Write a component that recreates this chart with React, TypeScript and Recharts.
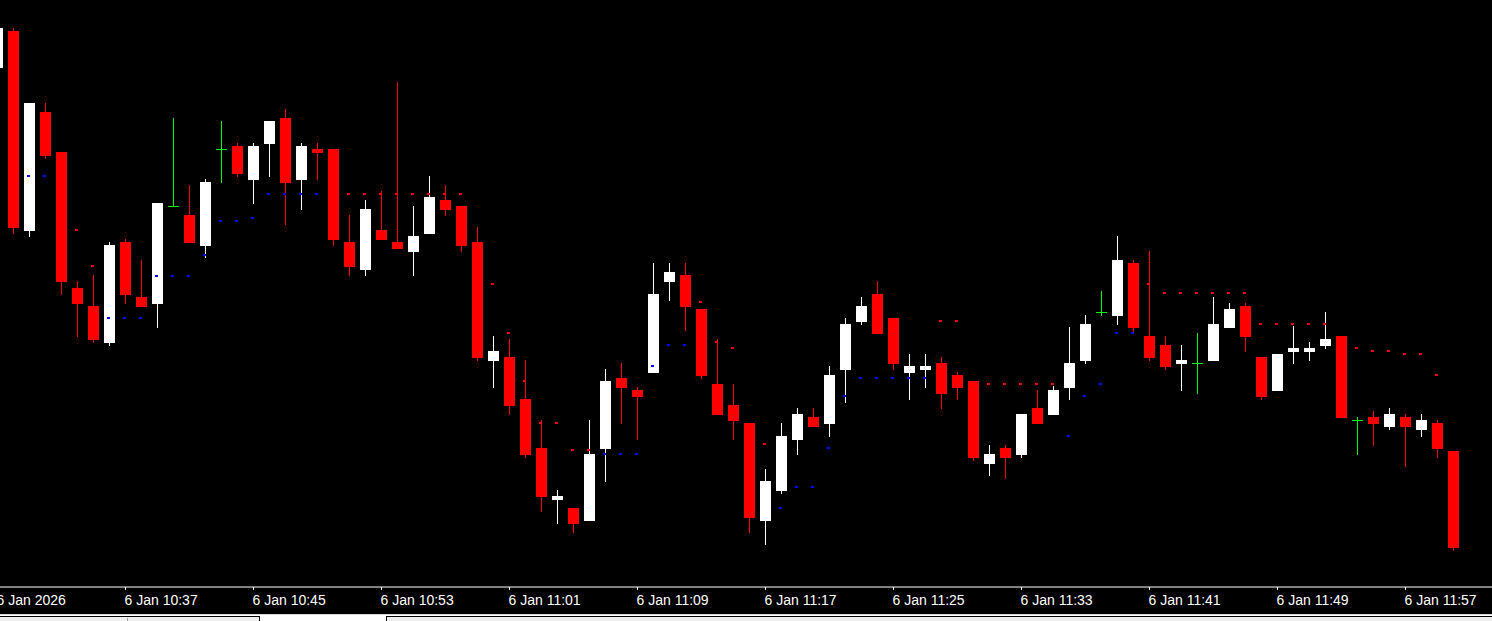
import React from 'react';
import { ComposedChart, Bar, Scatter, XAxis, YAxis } from 'recharts';

// one-minute bars, 6 Jan 2026
const times = [
  '10:29', '10:30', '10:31', '10:32', '10:33', '10:34', '10:35', '10:36', '10:37', '10:38',
  '10:39', '10:40', '10:41', '10:42', '10:43', '10:44', '10:45', '10:46', '10:47', '10:48',
  '10:49', '10:50', '10:51', '10:52', '10:53', '10:54', '10:55', '10:56', '10:57', '10:58',
  '10:59', '11:00', '11:01', '11:02', '11:03', '11:04', '11:05', '11:06', '11:07', '11:08',
  '11:09', '11:10', '11:11', '11:12', '11:13', '11:14', '11:15', '11:16', '11:17', '11:18',
  '11:19', '11:20', '11:21', '11:22', '11:23', '11:24', '11:25', '11:26', '11:27', '11:28',
  '11:29', '11:30', '11:31', '11:32', '11:33', '11:34', '11:35', '11:36', '11:37', '11:38',
  '11:39', '11:40', '11:41', '11:42', '11:43', '11:44', '11:45', '11:46', '11:47', '11:48',
  '11:49', '11:50', '11:51', '11:52', '11:53', '11:54', '11:55', '11:56', '11:57', '11:58',
  '11:59', '12:00',
];

const opens = [
  532, 569, 369, 488, 448, 312, 294, 257, 358, 303,
  296, 394, 385, 354, 451, 454, 420, 456, 482, 420,
  451, 451, 358, 330, 370, 358, 348, 366, 400, 394,
  358, 239, 243, 201, 152, 100, 92, 79, 151, 222,
  210, 227, 318, 325, 291, 216, 195, 177, 79, 109,
  160, 183, 176, 230, 278, 306, 282, 227, 230, 237,
  225, 219, 136, 152, 145, 192, 185, 212, 239, 288,
  284, 337, 264, 255, 236, 237, 239, 272, 294, 243,
  209, 248, 248, 254, 264, 180, 183, 173, 183, 170,
  177, 149,
];

const highs = [
  574, 572, 497, 497, 448, 319, 325, 358, 361, 340,
  397, 482, 415, 421, 479, 457, 457, 479, 491, 457,
  457, 451, 385, 400, 409, 518, 394, 424, 415, 394,
  373, 264, 261, 240, 180, 110, 92, 180, 231, 237,
  213, 337, 337, 337, 291, 261, 216, 177, 131, 177,
  192, 192, 234, 282, 303, 319, 282, 246, 246, 243,
  228, 219, 155, 155, 186, 210, 214, 273, 285, 309,
  364, 340, 349, 264, 255, 267, 303, 297, 297, 243,
  246, 274, 258, 288, 264, 183, 189, 192, 186, 186,
  180, 149,
];

const lows = [
  530, 366, 363, 441, 305, 263, 257, 254, 296, 293,
  272, 394, 357, 342, 417, 423, 396, 423, 375, 390,
  420, 354, 324, 324, 360, 351, 324, 366, 384, 348,
  239, 212, 185, 142, 88, 76, 67, 79, 118, 176,
  160, 227, 299, 269, 221, 185, 160, 67, 55, 106,
  145, 173, 163, 197, 275, 266, 230, 200, 212, 191,
  200, 139, 124, 121, 142, 176, 185, 200, 236, 284,
  275, 268, 239, 230, 209, 206, 239, 272, 248, 200,
  209, 236, 239, 251, 182, 145, 154, 170, 133, 163,
  142, 49,
];

const closes = [
  572, 372, 497, 444, 318, 296, 260, 355, 305, 293,
  397, 394, 357, 418, 451, 426, 454, 479, 417, 454,
  447, 360, 333, 391, 360, 351, 364, 403, 390, 354,
  242, 249, 194, 145, 103, 104, 76, 146, 219, 212,
  203, 306, 328, 293, 224, 185, 179, 82, 119, 164,
  186, 173, 225, 276, 294, 266, 236, 234, 234, 206,
  212, 142, 146, 142, 186, 176, 210, 237, 276, 288,
  340, 272, 242, 233, 240, 237, 276, 291, 263, 203,
  246, 252, 252, 261, 182, 180, 176, 186, 173, 180,
  151, 52,
];

// Parabolic SAR
const sar: (number | null)[] = [
  null, null, 424, 424, null, 370, 334, 282, 282, 282,
  324, 324, 324, 345, 379, 379, 382, 406, 406, 406,
  406, null, 406, 406, 406, 406, 406, 406, 406, 406,
  null, 316, 267, 219, 177, 177, 150, 150, 146, 146,
  146, 234, 255, 255, 298, 258, 252, null, 156, 92,
  113, 113, 152, 204, 222, 222, 222, 222, 222, 279,
  279, null, 216, 216, 216, 216, 216, 164, 204, 216,
  267, 267, 316, 307, 307, 307, 307, 307, 307, 276,
  276, 276, 276, 276, null, 252, 249, 249, 246, 246,
  225, null,
];

const tickIndexes = [0, 8, 16, 24, 32, 40, 48, 56, 64, 72, 80, 88];
const tickLabels = [
  '6 Jan 2026', '6 Jan 10:37', '6 Jan 10:45', '6 Jan 10:53', '6 Jan 11:01', '6 Jan 11:09',
  '6 Jan 11:17', '6 Jan 11:25', '6 Jan 11:33', '6 Jan 11:41', '6 Jan 11:49', '6 Jan 11:57',
];

const data = times.map((t, i) => ({
  i,
  time: t,
  open: opens[i],
  high: highs[i],
  low: lows[i],
  close: closes[i],
  range: [lows[i], highs[i]],
  sar: sar[i],
}));
const sarData = data.filter((d) => d.sar !== null);

const W = 1492;
const H = 614;
const BAR_STEP = 16;
const X_START = 2.5 / BAR_STEP;

const Candle = (props: any) => {
  const { x, y, width, height, payload } = props;
  if (!payload || x == null || y == null) return <g />;
  const { open, close, high, low } = payload;
  const cx = x + width / 2;
  const k = high - low > 0 ? height / (high - low) : 1;
  const py = (v: number) => y + (high - v) * k;
  const color = open === close ? '#00ff00' : close > open ? '#ffffff' : '#ff0000';
  const top = py(Math.max(open, close));
  const bot = py(Math.min(open, close));
  const bw = 11;
  return (
    <g>
      <rect x={cx - 0.5} y={y} width={1} height={Math.max(1, height)} fill={color} />
      <rect x={cx - bw / 2} y={top} width={bw} height={Math.max(1, bot - top)} fill={color} />
    </g>
  );
};

const SarDot = (props: any) => {
  const { cx, cy, payload } = props;
  if (!payload || payload.sar == null || cx == null || cy == null) return <g />;
  const color = payload.sar > payload.close ? '#ff0000' : '#0000ff';
  return <rect x={cx - 2.5} y={cy - 1} width={3} height={2} fill={color} />;
};

const Tick = (props: any) => {
  const { x, y, payload } = props;
  const idx = tickIndexes.indexOf(payload.value);
  return (
    <text
      x={x - 1}
      y={y + 13}
      fill="#ffffff"
      fontFamily="Liberation Sans, Arial, sans-serif"
      fontSize={14}
      textAnchor="start"
    >
      {idx >= 0 ? tickLabels[idx] : ''}
    </text>
  );
};

export default function App() {
  return (
    <div style={{ position: 'absolute', left: 0, top: 0, width: W, height: 621, background: '#ffffff', overflow: 'hidden' }}>
      <div style={{ position: 'absolute', left: 0, top: 0, width: W, height: H, background: '#000000' }}>
        <ComposedChart width={W} height={H} data={data} margin={{ top: 0, right: 0, bottom: 0, left: 0 }}>
          <XAxis
            dataKey="i"
            type="number"
            domain={[X_START, X_START + W / BAR_STEP]}
            allowDataOverflow
            ticks={tickIndexes}
            interval={0}
            height={27}
            axisLine={{ stroke: '#ffffff', strokeWidth: 1 }}
            tickLine={{ stroke: '#ffffff', strokeWidth: 1 }}
            tickSize={3}
            tick={<Tick />}
          />
          <YAxis type="number" hide domain={[13, 600]} allowDataOverflow />
          <Bar dataKey="range" barSize={12} shape={<Candle />} isAnimationActive={false} />
          <Scatter data={sarData} dataKey="sar" shape={<SarDot />} isAnimationActive={false} />
        </ComposedChart>
      </div>
      <div style={{ position: 'absolute', left: 0, top: 614, width: W, height: 1, background: '#dcdcdc' }} />
      <div style={{ position: 'absolute', left: 0, top: 616, width: 259, height: 5, borderTop: '1px solid #000', borderRight: '1px solid #000', background: '#f0f0f0' }} />
      <div style={{ position: 'absolute', left: 127, top: 618, width: 1, height: 3, background: '#a0a0a0' }} />
      <div style={{ position: 'absolute', left: 386, top: 616, width: W - 386, height: 5, borderTop: '1px solid #000', borderLeft: '1px solid #000', background: '#f0f0f0' }} />
    </div>
  );
}
